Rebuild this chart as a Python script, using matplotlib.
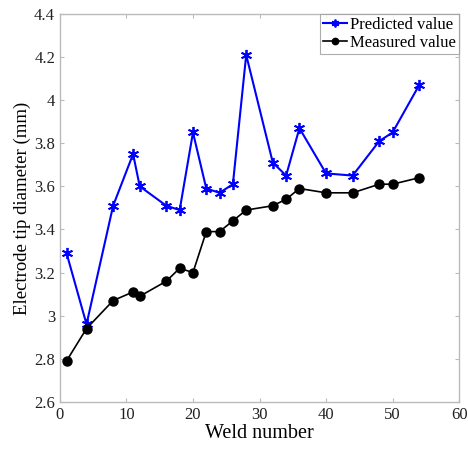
import matplotlib
matplotlib.use("Agg")
import matplotlib.pyplot as plt

weld = [1, 4, 8, 11, 12, 16, 18, 20, 22, 24, 26, 28, 32, 34, 36, 40, 44, 48, 50, 54]
predicted = [3.29, 2.96, 3.51, 3.75, 3.60, 3.51, 3.49, 3.85, 3.59, 3.57, 3.61, 4.21,
             3.71, 3.65, 3.87, 3.66, 3.65, 3.81, 3.85, 4.07]
measured = [2.79, 2.94, 3.07, 3.11, 3.09, 3.16, 3.22, 3.20, 3.39, 3.39, 3.44, 3.49,
            3.51, 3.54, 3.59, 3.57, 3.57, 3.61, 3.61, 3.64]
xticks = [0, 10, 20, 30, 40, 50, 60]
yticks = [2.6, 2.8, 3.0, 3.2, 3.4, 3.6, 3.8, 4.0, 4.2, 4.4]
ytick_labels = ["2.6", "2.8", "3", "3.2", "3.4", "3.6", "3.8", "4", "4.2", "4.4"]

plt.rcParams['font.family'] = ['Liberation Serif', 'DejaVu Serif']

fig = plt.figure(figsize=(4.68, 4.5), dpi=100)
ax = fig.add_axes([0.128, 0.107, 0.853, 0.862])

ax.plot(weld, predicted, color='#0000ff', marker=(6, 2, 0), markersize=8,
        markeredgewidth=1.3, linewidth=1.5, label='Predicted value')
ax.plot(weld, measured, color='black', marker='o', markersize=6.5, linewidth=1.2,
        label='Measured value')

ax.set_xlim(0, 60)
ax.set_ylim(2.6, 4.4)
ax.set_xticks(xticks)
ax.set_yticks(yticks)
ax.set_yticklabels(ytick_labels)
ax.tick_params(direction='in', labelsize=12, length=3, color='#bbbbbb',
               top=True, right=True, labelcolor='#222222')
for s in ax.spines.values():
    s.set_color('#bbbbbb')
    s.set_linewidth(1.0)

ax.set_xlabel('Weld number', fontsize=14.5, labelpad=1)
ax.set_ylabel('Electrode tip diameter (mm)', fontsize=13.5, labelpad=2)

leg = ax.legend(loc='upper right', fontsize=12, frameon=True, fancybox=False,
                borderpad=0.2, handlelength=1.4, handletextpad=0.2,
                labelspacing=0.1, borderaxespad=0.0, markerscale=0.7)
leg.get_frame().set_edgecolor('#999999')
leg.get_frame().set_linewidth(0.8)

fig.savefig('out.png', dpi=100)
